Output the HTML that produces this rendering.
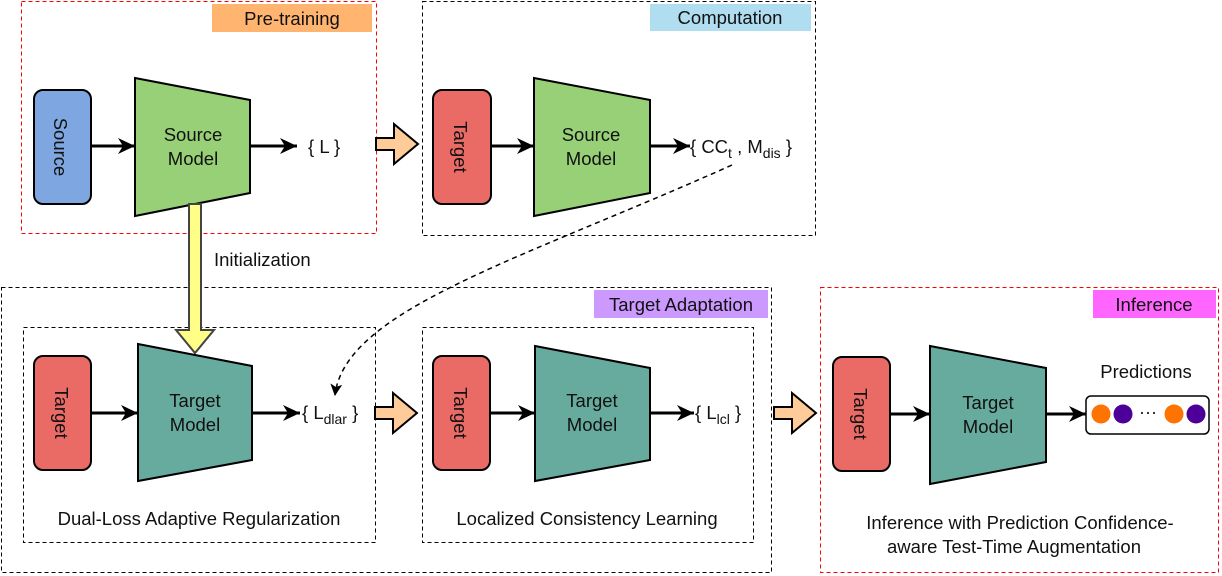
<!DOCTYPE html>
<html><head><style>body{margin:0;background:#fff}svg{display:block}text{font-family:"Liberation Sans",sans-serif;fill:#111}</style></head><body>
<svg width="1222" height="576" viewBox="0 0 1222 576" xmlns="http://www.w3.org/2000/svg">
<defs>
<marker id="ah" markerWidth="12" markerHeight="12" refX="11" refY="6" orient="auto" markerUnits="userSpaceOnUse"><path d="M0,0 L12,6 L0,12 L3,6Z" fill="#000"/></marker>
<marker id="ah2" markerWidth="18" markerHeight="18" refX="17" refY="9" orient="auto" markerUnits="userSpaceOnUse"><path d="M0,1 L17,9 L0,17 L5,9Z" fill="#000"/></marker>
</defs>
<g font-size="18.5">
<rect x="21.5" y="1.5" width="355" height="232" fill="none" stroke="#f00" stroke-dasharray="4,3"/>
<rect x="212" y="4" width="160" height="28" fill="#FFB570"/><text x="292" y="25" text-anchor="middle">Pre-training</text>
<rect x="422.5" y="1.5" width="393" height="234" fill="none" stroke="#000" stroke-dasharray="4,3"/>
<rect x="650" y="4" width="161" height="27" fill="#B1DDF0"/><text x="730" y="24" text-anchor="middle">Computation</text>
<rect x="1.5" y="287.5" width="770" height="285" fill="none" stroke="#000" stroke-dasharray="4,3"/>
<rect x="594" y="290" width="174" height="28" fill="#CC99FF"/><text x="681" y="311" text-anchor="middle">Target Adaptation</text>
<rect x="23.5" y="327.5" width="352" height="215" fill="none" stroke="#000" stroke-dasharray="4,3"/>
<rect x="422.5" y="327.5" width="331" height="215" fill="none" stroke="#000" stroke-dasharray="4,3"/>
<rect x="820.5" y="287.5" width="398" height="285" fill="none" stroke="#f00" stroke-dasharray="4,3"/>
<rect x="1093" y="290" width="123" height="28" fill="#FF66FF"/><text x="1154" y="311" text-anchor="middle">Inference</text>

<rect x="34" y="90" width="57" height="114" rx="9" fill="#7EA6E0" stroke="#000" stroke-width="2"/>
<text transform="translate(54,147) rotate(90)" text-anchor="middle">Source</text>
<path d="M135,78 L250,100 L250,193 L135,216Z" fill="#97D077" stroke="#000" stroke-width="2"/>
<text x="193" y="141" text-anchor="middle">Source</text><text x="193" y="165" text-anchor="middle">Model</text>
<line x1="91" y1="146" x2="135" y2="146" stroke="#000" stroke-width="3" marker-end="url(#ah2)"/>
<line x1="250" y1="146" x2="297" y2="146" stroke="#000" stroke-width="3" marker-end="url(#ah2)"/>
<text x="308" y="153">{ L }</text>

<rect x="433" y="90" width="58" height="114" rx="9" fill="#EA6B66" stroke="#000" stroke-width="2"/>
<text transform="translate(454,147) rotate(90)" text-anchor="middle">Target</text>
<path d="M534,78 L650,100 L650,193 L534,216Z" fill="#97D077" stroke="#000" stroke-width="2"/>
<text x="591" y="141" text-anchor="middle">Source</text><text x="591" y="165" text-anchor="middle">Model</text>
<line x1="491" y1="146" x2="534" y2="146" stroke="#000" stroke-width="3" marker-end="url(#ah2)"/>
<line x1="650" y1="146" x2="690" y2="146" stroke="#000" stroke-width="3" marker-end="url(#ah2)"/>
<text x="690" y="153">{ CC<tspan font-size="14" dy="5">t</tspan><tspan dy="-5"> , M</tspan><tspan font-size="14" dy="5">dis</tspan><tspan dy="-5"> }</tspan></text>

<g fill="#FFCC99" stroke="#000" stroke-width="2">
<path d="M376,138 L394,138 L394,124 L418,144 L394,164 L394,150 L376,150Z"/>
<path d="M375,407 L393,407 L393,393 L417,413 L393,433 L393,419 L375,419Z"/>
<path d="M774,407 L792,407 L792,393 L816,413 L792,433 L792,419 L774,419Z"/>
</g>
<path d="M189,204 L201,204 L201,330 L214,330 L195,353 L176,330 L189,330Z" fill="#FFFF88" stroke="#444" stroke-width="2"/>
<text x="214" y="266">Initialization</text>
<path d="M732,165 C520,260 345,310 335,395" fill="none" stroke="#000" stroke-width="1.5" stroke-dasharray="5,4" marker-end="url(#ah)"/>

<rect x="34" y="356" width="57" height="114" rx="9" fill="#EA6B66" stroke="#000" stroke-width="2"/>
<text transform="translate(55,413) rotate(90)" text-anchor="middle">Target</text>
<path d="M138,344 L252,366 L252,460 L138,481Z" fill="#67AB9F" stroke="#000" stroke-width="2"/>
<text x="195" y="407" text-anchor="middle">Target</text><text x="195" y="431" text-anchor="middle">Model</text>
<line x1="91" y1="413" x2="138" y2="413" stroke="#000" stroke-width="3" marker-end="url(#ah2)"/>
<line x1="252" y1="413" x2="300" y2="413" stroke="#000" stroke-width="3" marker-end="url(#ah2)"/>
<text x="302" y="419">{ L<tspan font-size="14" dy="5">dlar</tspan><tspan dy="-5"> }</tspan></text>
<text x="199" y="525" text-anchor="middle">Dual-Loss Adaptive Regularization</text>

<rect x="433" y="356" width="57" height="114" rx="9" fill="#EA6B66" stroke="#000" stroke-width="2"/>
<text transform="translate(454,413) rotate(90)" text-anchor="middle">Target</text>
<path d="M535,346 L650,368 L650,460 L535,481Z" fill="#67AB9F" stroke="#000" stroke-width="2"/>
<text x="592" y="407" text-anchor="middle">Target</text><text x="592" y="431" text-anchor="middle">Model</text>
<line x1="490" y1="413" x2="535" y2="413" stroke="#000" stroke-width="3" marker-end="url(#ah2)"/>
<line x1="650" y1="413" x2="694" y2="413" stroke="#000" stroke-width="3" marker-end="url(#ah2)"/>
<text x="695" y="419">{ L<tspan font-size="14" dy="5">lcl</tspan><tspan dy="-5"> }</tspan></text>
<text x="587" y="525" text-anchor="middle">Localized Consistency Learning</text>

<rect x="833" y="357" width="57" height="114" rx="9" fill="#EA6B66" stroke="#000" stroke-width="2"/>
<text transform="translate(854,414) rotate(90)" text-anchor="middle">Target</text>
<path d="M930,346 L1046,368 L1046,462 L930,484Z" fill="#67AB9F" stroke="#000" stroke-width="2"/>
<text x="988" y="409" text-anchor="middle">Target</text><text x="988" y="433" text-anchor="middle">Model</text>
<line x1="890" y1="414" x2="930" y2="414" stroke="#000" stroke-width="3" marker-end="url(#ah2)"/>
<line x1="1046" y1="414" x2="1086" y2="414" stroke="#000" stroke-width="3" marker-end="url(#ah2)"/>
<text x="1146" y="378" text-anchor="middle">Predictions</text>
<rect x="1086" y="396" width="123" height="38" rx="5" fill="#fff" stroke="#000" stroke-width="1.5"/>
<circle cx="1101" cy="414" r="9.5" fill="#FF7300"/><circle cx="1123" cy="414" r="9.5" fill="#4C0099"/>
<circle cx="1174" cy="414" r="9.5" fill="#FF7300"/><circle cx="1196" cy="414" r="9.5" fill="#4C0099"/>
<text x="1148" y="418" text-anchor="middle" font-size="18">···</text>
<text x="1020" y="529" text-anchor="middle">Inference with Prediction Confidence-</text>
<text x="1014" y="553" text-anchor="middle">aware Test-Time Augmentation</text>
</g>
</svg>
</body></html>
